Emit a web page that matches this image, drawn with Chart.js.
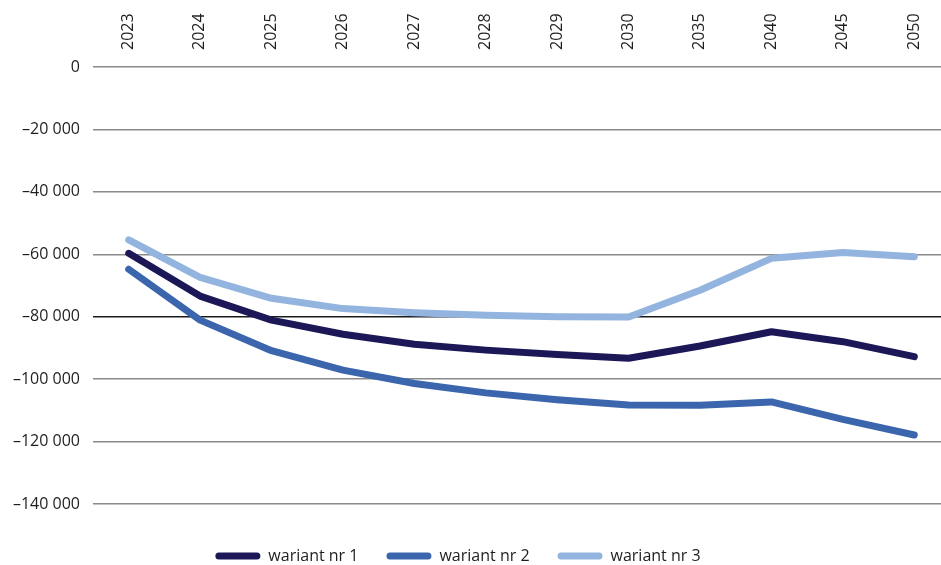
<!DOCTYPE html>
<html lang="pl">
<head>
<meta charset="utf-8">
<title>Warianty</title>
<script src="https://cdn.jsdelivr.net/npm/chart.js@4/dist/chart.umd.min.js"></script>
<style>
  html, body { margin: 0; padding: 0; background: #fff; overflow: hidden; }
  #wrap { width: 950px; height: 565px; position: relative; }
</style>
</head>
<body>
<div id="wrap"><canvas id="c" width="950" height="565"></canvas></div>
<script>
// Years on the horizontal axis
const years = ['2023', '2024', '2025', '2026', '2027', '2028', '2029', '2030', '2035', '2040', '2045', '2050'];

// Series values
const wariant1 = [-59700, -73400, -81100, -85600, -88800, -90700, -92100, -93300, -89400, -84800, -88000, -92800];
const wariant2 = [-64800, -81100, -90900, -97100, -101400, -104400, -106600, -108300, -108400, -107300, -112900, -117900];
const wariant3 = [-55400, -67400, -74100, -77400, -78700, -79500, -80000, -80100, -71500, -61300, -59400, -60800];

const seriesNames = ['wariant nr 1', 'wariant nr 2', 'wariant nr 3'];
const seriesColors = ['#1c1757', '#3b66ad', '#93b4de'];

// Vertical axis range and step
const yMin = -140000;
const yMax = 0;
const yStep = 20000;

const FONT = '"Open Sans", "Noto Sans", sans-serif';
const TEXT = '#1e1e1e';

function fmt(v) {
  const abs = Math.abs(v).toString().replace(/\B(?=(\d{3})+(?!\d))/g, ' ');
  return (v < 0 ? '\u2013' : '') + abs;
}

// Nudges the legend row below the plot
const legendShift = {
  id: 'legendShift',
  afterLayout(chart) {
    const lg = chart.legend;
    if (!lg) return;
    lg.top += 16; lg.bottom += 16;
    lg.left -= 17; lg.right -= 17;
  }
};

const series = [wariant1, wariant2, wariant3];

new Chart(document.getElementById('c'), {
  type: 'line',
  data: {
    labels: years,
    datasets: series.map((d, i) => ({
      label: seriesNames[i],
      data: d,
      borderColor: seriesColors[i],
      backgroundColor: seriesColors[i],
      borderWidth: 7,
      borderCapStyle: 'round',
      borderJoinStyle: 'round',
      pointRadius: 0,
      tension: 0,
      fill: false
    }))
  },
  options: {
    responsive: false,
    animation: false,
    devicePixelRatio: 1,
    layout: { padding: { left: 0, right: 0, top: 0, bottom: 7 } },
    plugins: {
      tooltip: { enabled: false },
      legend: {
        position: 'bottom',
        labels: {
          boxWidth: 45,
          boxHeight: 7,
          useBorderRadius: true,
          borderRadius: 3.5,
          padding: 28,
          color: TEXT,
          font: { family: FONT, size: 16 },
          generateLabels(chart) {
            return chart.data.datasets.map((ds, i) => ({
              text: ds.label,
              fillStyle: ds.borderColor,
              strokeStyle: ds.borderColor,
              lineWidth: 0,
              borderRadius: 3.5,
              fontColor: TEXT,
              datasetIndex: i,
              hidden: false
            }));
          }
        }
      }
    },
    scales: {
      x: {
        type: 'category',
        position: 'top',
        offset: true,
        grid: { display: false, drawTicks: false },
        border: { display: false },
        ticks: {
          minRotation: 90,
          maxRotation: 90,
          autoSkip: false,
          padding: 17,
          labelOffset: 19,
          color: TEXT,
          font: { family: FONT, size: 16 }
        },
        afterFit(s) { s.height = 67; }
      },
      y: {
        min: yMin,
        max: yMax,
        grid: {
          drawTicks: false,
          lineWidth: 1.4,
          color: (ctx) => (ctx.tick && ctx.tick.value === -80000 ? '#1a1a1a' : '#8a8a8a')
        },
        border: { display: false },
        ticks: {
          stepSize: yStep,
          padding: 13,
          color: TEXT,
          font: { family: FONT, size: 16 },
          callback: (v) => fmt(v)
        },
        afterFit(s) { s.width = 93; }
      }
    }
  },
  plugins: [legendShift]
});
</script>
</body>
</html>
